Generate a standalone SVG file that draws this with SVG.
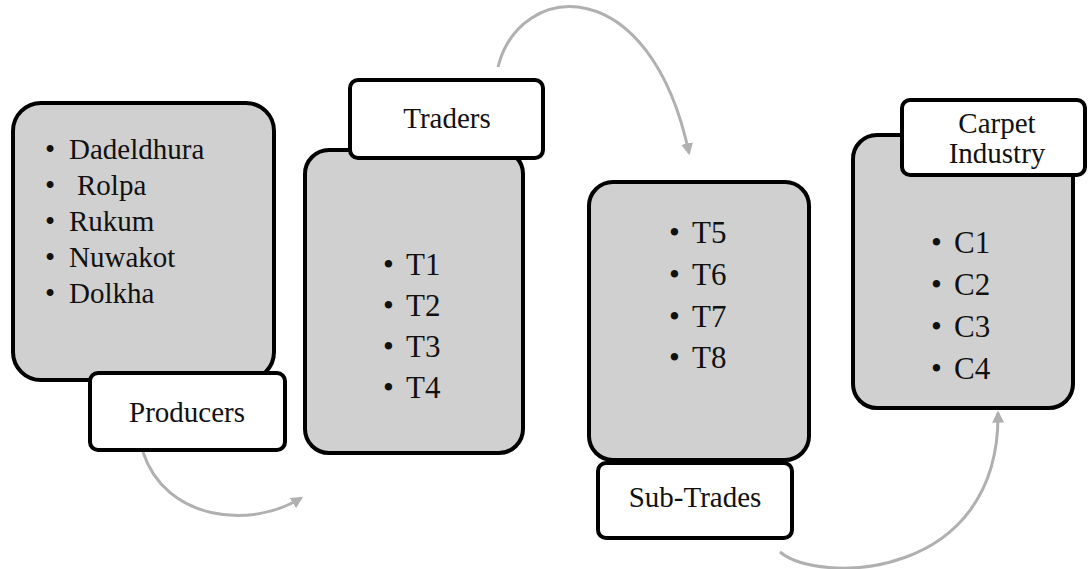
<svg xmlns="http://www.w3.org/2000/svg" width="1089" height="569" viewBox="0 0 1089 569">
  <style>
    .panel { fill: #d0d0d0; stroke: #000; stroke-width: 4; }
    .tag { fill: #fff; stroke: #000; stroke-width: 4; }
    text { font-family: "Liberation Serif", "Times New Roman", serif; fill: #111; }
    .lbl { font-size: 29px; text-anchor: middle; }
    .item { font-size: 29px; }
    .code { font-size: 31px; }
    .flow { fill: none; stroke: #b0b0b0; stroke-width: 3; marker-end: url(#tip); }
  </style>
  <defs>
    <marker id="tip" viewBox="0 0 10 10" refX="8" refY="5" markerWidth="4" markerHeight="4" orient="auto" markerUnits="strokeWidth">
      <path d="M0,0 L10,5 L0,10 z" fill="#b0b0b0"/>
    </marker>
  </defs>

  <!-- connectors between stages -->
  <g id="connectors">
    <path class="flow" d="M143,452 C165,520 250,530 301,498"/>
    <path class="flow" d="M498,67 C520,-20 650,-30 689,153"/>
    <path class="flow" d="M780,552 C820,585 1000,580 998,413"/>
  </g>

  <!-- Producers -->
  <g id="producers">
    <rect class="panel" x="13" y="103" width="261" height="277" rx="28"/>
    <text class="item" x="45" y="159">•</text><text class="item" x="69" y="159">Dadeldhura</text>
    <text class="item" x="45" y="195">•</text><text class="item" x="77" y="195">Rolpa</text>
    <text class="item" x="45" y="231">•</text><text class="item" x="69" y="231">Rukum</text>
    <text class="item" x="45" y="267">•</text><text class="item" x="69" y="267">Nuwakot</text>
    <text class="item" x="45" y="303">•</text><text class="item" x="69" y="303">Dolkha</text>
    <rect class="tag" x="90" y="373" width="195" height="77" rx="8"/>
    <text class="lbl" x="187" y="422">Producers</text>
  </g>

  <!-- Traders -->
  <g id="traders">
    <rect class="panel" x="305" y="150" width="218" height="303" rx="24"/>
    <rect class="tag" x="350" y="80" width="193" height="78" rx="8"/>
    <text class="lbl" x="447" y="128">Traders</text>
    <text class="code" x="383" y="275">•</text><text class="code" x="406" y="275">T1</text>
    <text class="code" x="383" y="316">•</text><text class="code" x="406" y="316">T2</text>
    <text class="code" x="383" y="357">•</text><text class="code" x="406" y="357">T3</text>
    <text class="code" x="383" y="398">•</text><text class="code" x="406" y="398">T4</text>
  </g>

  <!-- Sub-Trades -->
  <g id="sub-trades">
    <rect class="panel" x="589" y="182" width="220" height="278" rx="24"/>
    <text class="code" x="669" y="243">•</text><text class="code" x="692" y="243">T5</text>
    <text class="code" x="669" y="285">•</text><text class="code" x="692" y="285">T6</text>
    <text class="code" x="669" y="327">•</text><text class="code" x="692" y="327">T7</text>
    <text class="code" x="669" y="368">•</text><text class="code" x="692" y="368">T8</text>
    <rect class="tag" x="598" y="463" width="194" height="75" rx="8"/>
    <text class="lbl" x="695" y="507">Sub-Trades</text>
  </g>

  <!-- Carpet Industry -->
  <g id="carpet-industry">
    <rect class="panel" x="853" y="135" width="220" height="273" rx="24"/>
    <text class="code" x="931" y="253">•</text><text class="code" x="954" y="253">C1</text>
    <text class="code" x="931" y="295">•</text><text class="code" x="954" y="295">C2</text>
    <text class="code" x="931" y="337">•</text><text class="code" x="954" y="337">C3</text>
    <text class="code" x="931" y="379">•</text><text class="code" x="954" y="379">C4</text>
    <rect class="tag" x="902" y="100" width="183" height="75" rx="8"/>
    <text class="lbl" x="997" y="133">Carpet</text>
    <text class="lbl" x="997" y="163">Industry</text>
  </g>
</svg>
